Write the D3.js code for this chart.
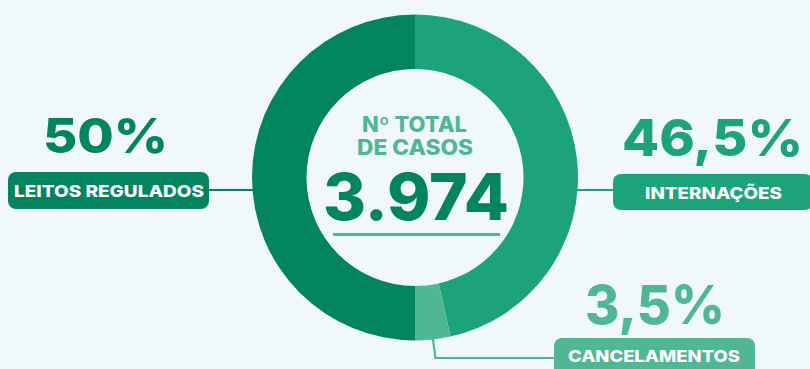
<!DOCTYPE html>
<html>
<head>
<meta charset="utf-8">
<script src="https://cdn.jsdelivr.net/npm/d3@7"></script>
<style>
  html, body { margin: 0; padding: 0; background: #F0F8FB; }
  svg { display: block; }
  text { font-family: Inter, "Open Sans", sans-serif; font-weight: 800; }
</style>
</head>
<body>
<svg id="chart" width="810" height="369"></svg>
<script>
// Distribution of cases (share, %), clockwise from 12 o'clock
const categories = ["INTERNAÇÕES", "CANCELAMENTOS", "LEITOS REGULADOS"];
const shares = [46.5, 3.5, 50];
const shareLabels = ["46,5%", "3,5%", "50%"];
const totalLabel = ["Nº TOTAL", "DE CASOS"];
const totalValue = "3.974";

const colors = ["#1CA37A", "#50B795", "#02855E"];

const W = 810, H = 369;
const cx = 415, cy = 177.5, rOuter = 163, rInner = 108.5;

const svg = d3.select("#chart");
svg.append("rect").attr("width", W).attr("height", H).attr("fill", "#F0F8FB");

const pie = d3.pie().sort(null).value(d => d)(shares);
const arc = d3.arc().innerRadius(rInner).outerRadius(rOuter);

const g = svg.append("g").attr("transform", `translate(${cx},${cy})`);

// Leader lines (drawn beneath the ring)
const lines = svg.append("g").attr("fill", "none").attr("stroke-width", 2.2);
const yLeft = 190, yRight = 190;
lines.append("line")
  .attr("x1", 205).attr("x2", cx - Math.sqrt(rOuter * rOuter - (yLeft - cy) ** 2) + 3)
  .attr("y1", yLeft).attr("y2", yLeft).attr("stroke", colors[2]);
lines.append("line")
  .attr("x1", cx + Math.sqrt(rOuter * rOuter - (yRight - cy) ** 2) - 3).attr("x2", 616)
  .attr("y1", yRight).attr("y2", yRight).attr("stroke", colors[0]);
// Cancellations: leader from the middle of its slice downwards, then right
const midA = (pie[1].startAngle + pie[1].endAngle) / 2;
const bx = cx + Math.sin(midA) * (rOuter - 4), by = cy - Math.cos(midA) * (rOuter - 4);
lines.append("path")
  .attr("d", `M${bx},${by} L${bx + 3},358 L558,358`)
  .attr("stroke", colors[1]);

g.selectAll("path.slice")
  .data(pie)
  .join("path")
  .attr("class", "slice")
  .attr("d", arc)
  .attr("fill", (d, i) => colors[i]);

// Center text
svg.append("text").attr("x", 414.5).attr("y", 132)
  .attr("text-anchor", "middle").attr("font-size", 21).attr("fill", colors[1])
  .attr("textLength", 105).attr("lengthAdjust", "spacingAndGlyphs")
  .text(totalLabel[0]);
svg.append("text").attr("x", 415).attr("y", 155)
  .attr("text-anchor", "middle").attr("font-size", 21).attr("fill", colors[1])
  .attr("textLength", 116).attr("lengthAdjust", "spacingAndGlyphs")
  .text(totalLabel[1]);
svg.append("text").attr("x", 416).attr("y", 220)
  .attr("text-anchor", "middle").attr("font-size", 65).attr("fill", colors[2])
  .attr("textLength", 186).attr("lengthAdjust", "spacingAndGlyphs")
  .text(totalValue);
svg.append("rect").attr("x", 333).attr("y", 233).attr("width", 167).attr("height", 3)
  .attr("fill", colors[1]);

// Callouts: big percentage above a rounded badge with category name
const callouts = [
  { i: 2, pctX: 105.5, pctY: 153, pctSize: 48, pctW: 125, bx: 8, by: 172, bw: 201, bh: 37, tx: 109, ty: 197, tw: 190 },
  { i: 0, pctX: 712.5, pctY: 156, pctSize: 51, pctW: 181, bx: 613, by: 174, bw: 200, bh: 36, tx: 713.5, ty: 199, tw: 137 },
  { i: 1, pctX: 655, pctY: 324, pctSize: 54, pctW: 140, bx: 554, by: 338, bw: 201, bh: 40, tx: 654, ty: 362, tw: 172 }
];
callouts.forEach(c => {
  svg.append("text").attr("x", c.pctX).attr("y", c.pctY)
    .attr("text-anchor", "middle").attr("font-size", c.pctSize).attr("fill", colors[c.i])
    .attr("font-weight", 900)
    .attr("textLength", c.pctW).attr("lengthAdjust", "spacingAndGlyphs")
    .text(shareLabels[c.i]);
  svg.append("rect").attr("x", c.bx).attr("y", c.by).attr("width", c.bw).attr("height", c.bh)
    .attr("rx", 8).attr("fill", colors[c.i]);
  svg.append("text").attr("x", c.tx).attr("y", c.ty)
    .attr("text-anchor", "middle").attr("font-size", 16).attr("fill", "#FFFFFF")
    .attr("textLength", c.tw).attr("lengthAdjust", "spacingAndGlyphs")
    .text(categories[c.i]);
});
</script>
</body>
</html>
